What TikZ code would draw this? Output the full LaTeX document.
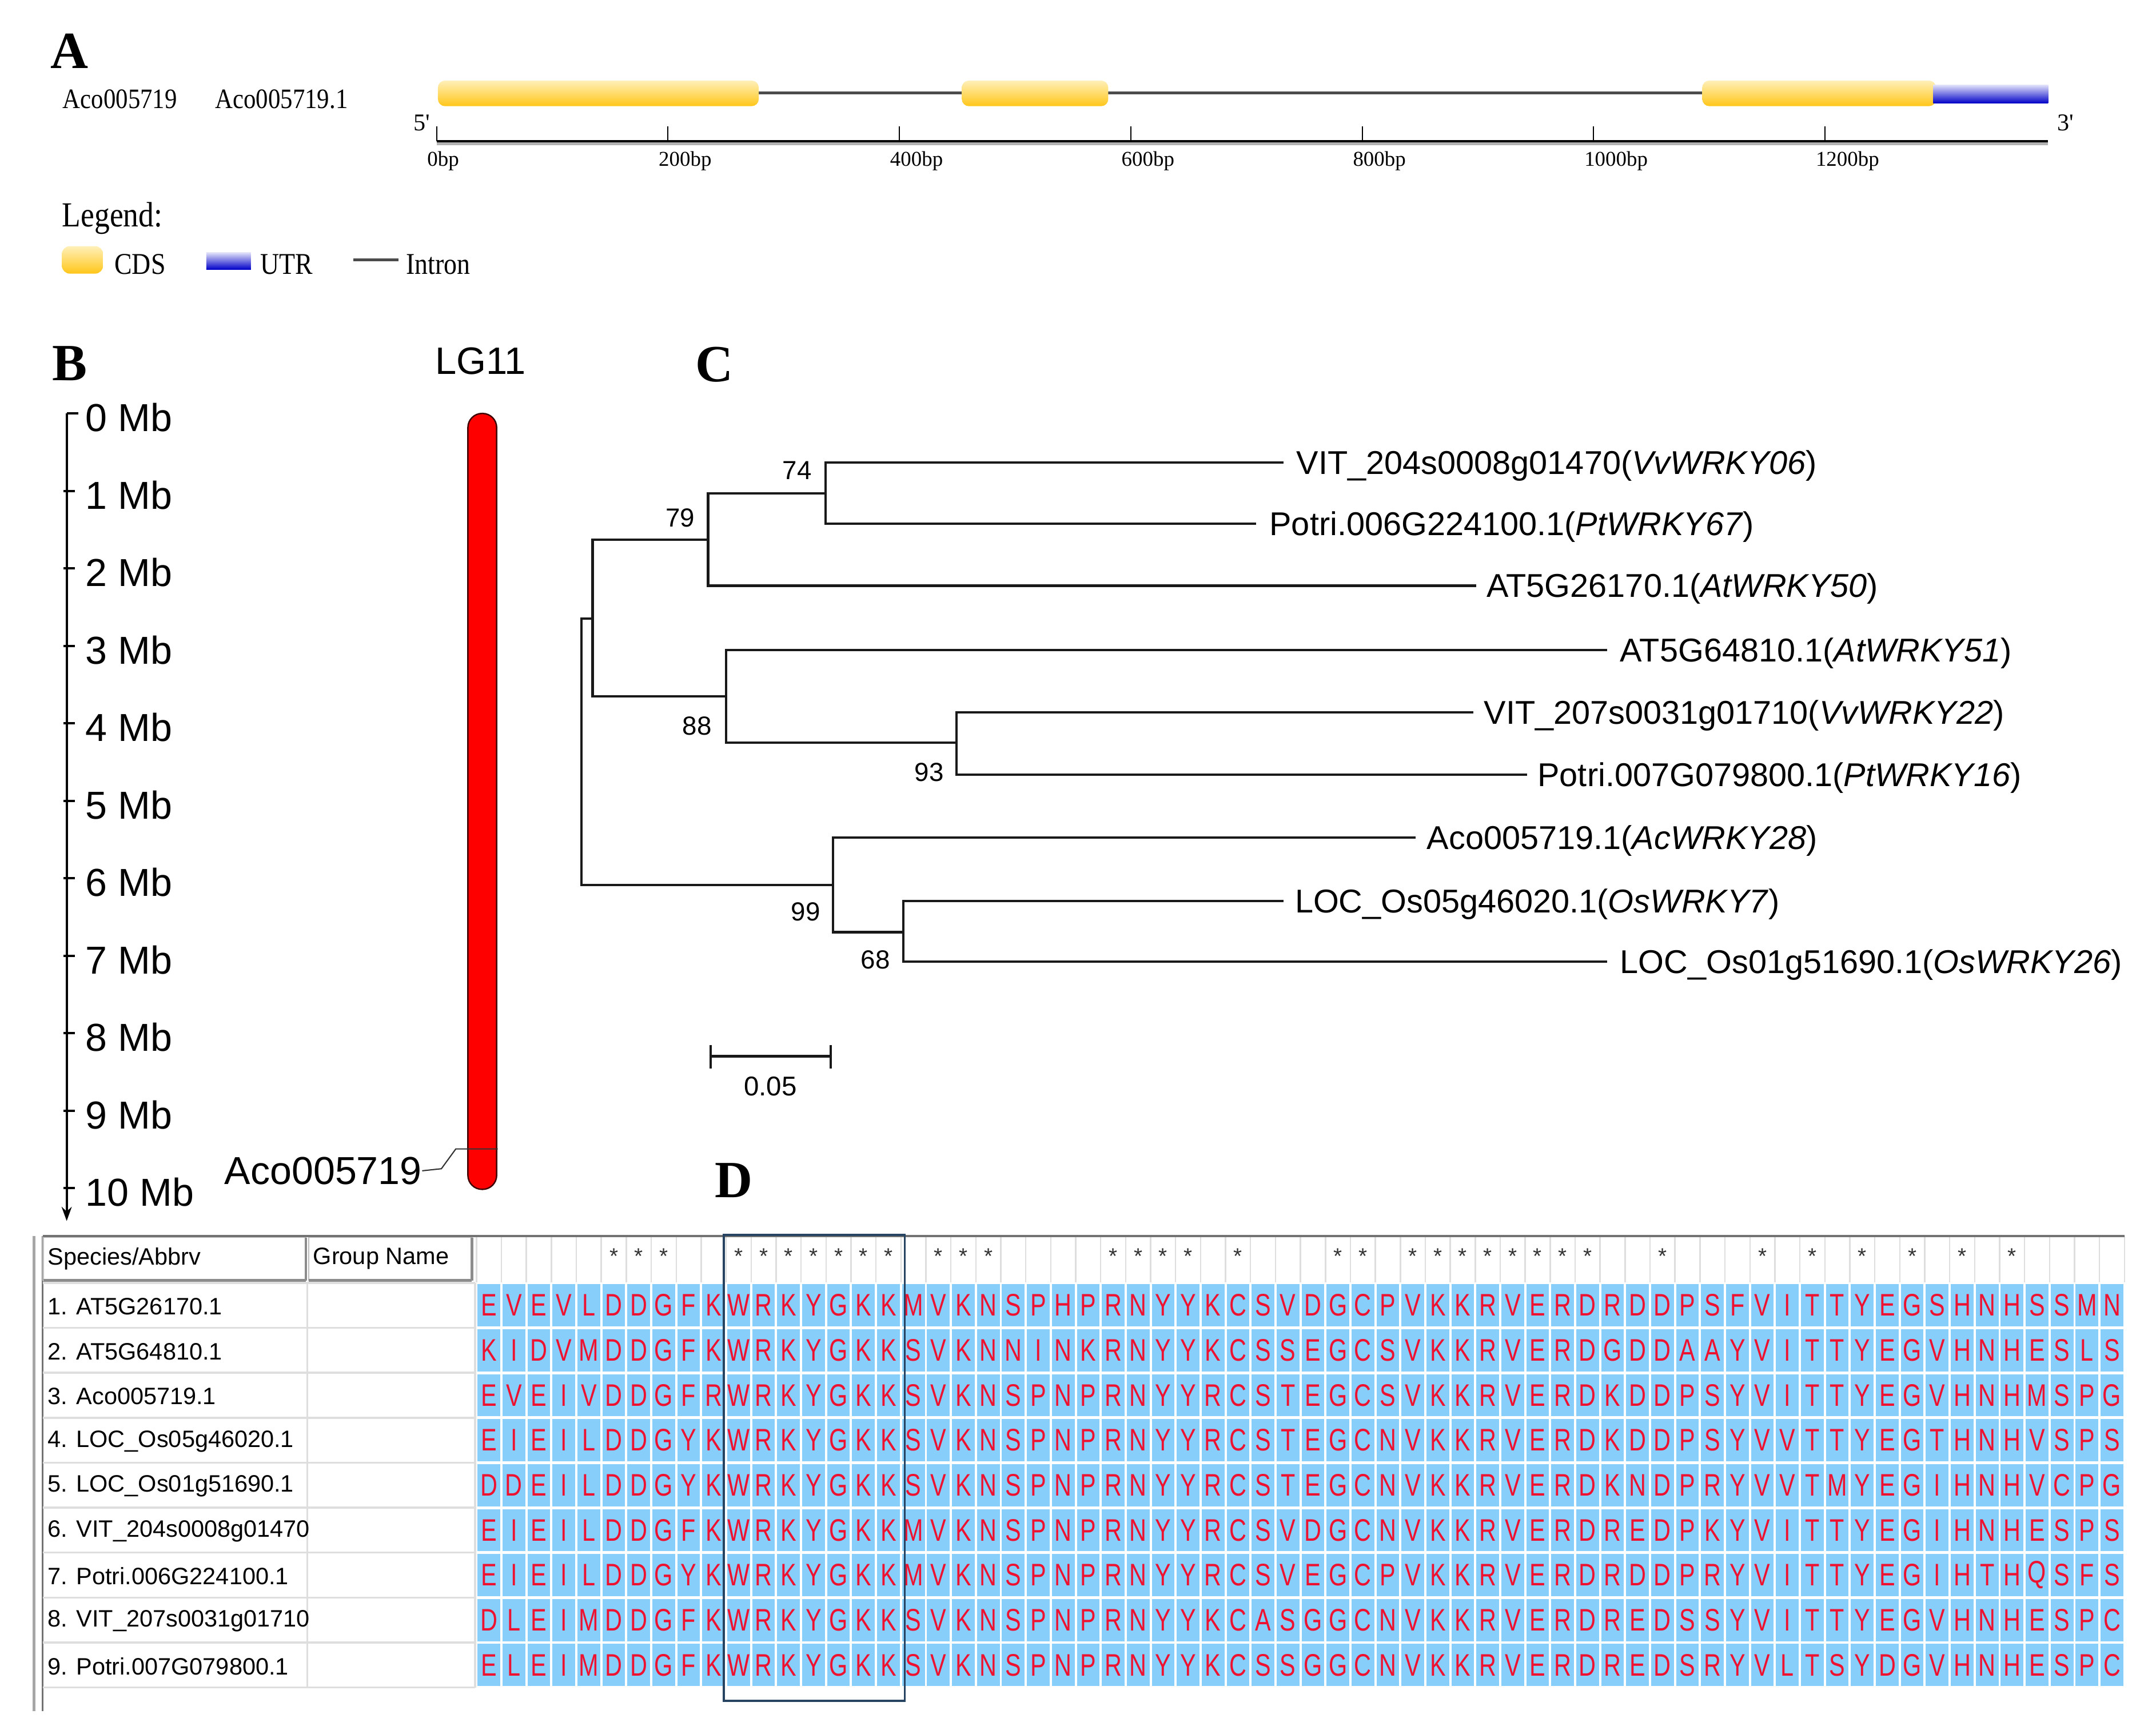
\documentclass[tikz,border=0pt]{standalone}
\usepackage{fontspec}
\setmainfont{Liberation Sans}
\newfontfamily\tnr{Liberation Serif}
\newfontfamily\tnra[FakeStretch=0.87]{Liberation Serif}
\newfontfamily\seqf[FakeStretch=0.76]{Liberation Sans}
\usetikzlibrary{arrows.meta}
\definecolor{cdsTop}{RGB}{255,240,185}
\definecolor{cdsMid}{RGB}{255,213,70}
\definecolor{cdsBot}{RGB}{255,198,25}
\definecolor{utrTop}{RGB}{228,228,250}
\definecolor{utrMid}{RGB}{90,90,225}
\definecolor{utrBot}{RGB}{0,0,200}
\definecolor{cellblue}{RGB}{135,206,250}
\definecolor{aared}{RGB}{238,18,48}
\definecolor{boxblue}{RGB}{38,68,98}
\definecolor{gridgray}{RGB}{222,222,222}
\definecolor{introngray}{RGB}{75,75,75}
\definecolor{chromred}{RGB}{255,0,0}
\newcommand\seqrow[2]{%
  \foreach \ch [count=\k] in {#2} {%
    \node[aacell] (s#1-\k) at ({337.42+18.16*\k},{933+32.7*(#1-0.5)}) {\ch};
  }}
\tikzset{
  panellab/.style={inner sep=0, font=\tnr\bfseries\fontsize{26}{28}\selectfont},
  genelab/.style={inner sep=0, anchor=base west, font=\tnra\fontsize{14}{16}\selectfont},
  leglab/.style={inner sep=0, anchor=base west, font=\tnra\fontsize{15}{17}\selectfont},
  bplab/.style={inner sep=0, anchor=base west, font=\tnr\fontsize{10.5}{12}\selectfont},
  mblab/.style={inner sep=0, anchor=west, font=\fontsize{19.4}{21}\selectfont},
  leaflab/.style={inner sep=0, anchor=base west, font=\fontsize{16.4}{18}\selectfont},
  boot/.style={inner sep=0, font=\fontsize{13}{14}\selectfont},
  branch/.style={line width=1.2pt, black!90},
  cdsbar/.style={top color=cdsTop, middle color=cdsMid, bottom color=cdsBot, rounded corners=3.5pt},
  utrbar/.style={top color=utrTop, middle color=utrMid, bottom color=utrBot},
  aacell/.style={inner sep=0, minimum width=11.3pt, minimum height=21pt, fill=cellblue, text=aared, font=\seqf\fontsize{15.5}{16}\selectfont},
  rowlab/.style={inner sep=0, anchor=west, font=\fontsize{11.8}{13}\selectfont},
  cons/.style={inner sep=0, anchor=north, text=black!80, font=\fontsize{11}{12}\selectfont},
}
\begin{document}
\begin{tikzpicture}[x=0.02405cm, y=-0.02405cm]
\useasboundingbox (0,0) rectangle (1568,1261);
\fill[white] (0,0) rectangle (1568,1261);

%% ---------------- Panel A ----------------
\node[panellab] (pA) at (50.5,37) {A};
\node[genelab] (g1) at (45.4,78.6) {Aco005719};
\node[genelab] (g2) at (156.3,78.6) {Aco005719.1};
% introns
\draw[introngray, line width=1.4pt] (551,67.6) -- (700,67.6);
\draw[introngray, line width=1.4pt] (805,67.6) -- (1239,67.6);
% exons
\shade[cdsbar] (318.5,58.6) rectangle (551.8,77.2);
\shade[cdsbar] (699.5,58.6) rectangle (806,77.2);
\shade[cdsbar] (1238,58.6) rectangle (1408,77.2);
\shade[utrbar] (1406,61.6) rectangle (1489.6,75.2);
% axis
\draw[black!30, line width=2.4pt] (317.5,103.8) -- (1489.6,103.8);
\draw[black, line width=1pt] (317.5,102.6) -- (1489.6,102.6);
\foreach \i/\lab in {0/0bp,1/200bp,2/400bp,3/600bp,4/800bp,5/1000bp,6/1200bp}{
  \draw[black, line width=0.6pt] ({317.5+168.3*\i},91.7) -- ({317.5+168.3*\i},102.6);
  \node[bplab] (bp\i) at ({310.5+168.3*\i},120.6) {\lab};
}
\node[bplab, font=\tnr\fontsize{12}{13}\selectfont] (p5) at (300.5,95) {5'};
\node[bplab, font=\tnr\fontsize{12}{13}\selectfont] (p3) at (1496,95) {3'};
% legend
\node[inner sep=0, anchor=base west, font=\tnra\fontsize{17.5}{19}\selectfont] (leg) at (45,164.8) {Legend:};
\shade[cdsbar, rounded corners=4pt] (45,179) rectangle (75,199);
\node[leglab] (lcds) at (83,199.5) {CDS};
\shade[utrbar] (150,183.5) rectangle (182.5,196);
\node[leglab] (lutr) at (189,199.5) {UTR};
\draw[introngray, line width=1.4pt] (257,189) -- (290,189);
\node[leglab] (lint) at (295,199.5) {Intron};

%% ---------------- Panel B ----------------
\node[panellab] (pB) at (50.7,264.5) {B};
\node[inner sep=0, font=\fontsize{19}{21}\selectfont] (lg) at (349.5,262.5) {LG11};
\coordinate (axtop) at (48.5,300.7);
\coordinate (axbot) at (48.5,888);
\draw[black, line width=1.1pt, -{Stealth[length=7pt,width=5pt]}] (axtop) -- (axbot);
\draw[black, line width=1.1pt] (48.5,300.7) -- (57,300.7);
\foreach \k in {1,...,10}{
  \draw[black, line width=1.1pt] (46.2,{300.7+56.35*\k}) -- (54.5,{300.7+56.35*\k});
}
\foreach \k in {0,...,10}{
  \node[mblab] (mb\k) at (62,{300.7+56.35*\k+3}) {\k\ Mb};
}
\draw[fill=chromred, draw=black!75!red, line width=0.7pt, rounded corners=7pt] (340.3,300.7) rectangle (361.2,865);
\node[mblab] (acoB) at (163,851.5) {Aco005719};
\coordinate (mk1) at (362,835.6);
\coordinate (mk2) at (331.5,835.6);
\coordinate (mk3) at (321,850);
\draw[black!80, line width=0.6pt] (mk1) -- (mk2) -- (mk3) -- (acoB.east);

%% ---------------- Panel C ----------------
\node[panellab] (pC) at (519.7,265) {C};
% leaf ends
\coordinate (e1) at (933.3,336.4);
\coordinate (e2) at (913.5,381);
\coordinate (e3) at (1073.4,426);
\coordinate (e4) at (1168.9,472.6);
\coordinate (e5) at (1071.4,518);
\coordinate (e6) at (1110.4,563.3);
\coordinate (e7) at (1029.7,609);
\coordinate (e8) at (933.3,655.3);
\coordinate (e9) at (1168.9,699.4);
% internal nodes
\coordinate (m74) at (600.3,358.8);
\coordinate (m79) at (515,392.4);
\coordinate (m93) at (695.7,540);
\coordinate (m88) at (528,506.5);
\coordinate (mA) at (431,450);
\coordinate (m68) at (657,678);
\coordinate (m99) at (605.8,643.6);
\coordinate (mR) at (423,546.8);
\draw[branch] (e1) -| (m74) |- (e2);
\draw[branch] (m74) -| (m79) |- (e3);
\draw[branch] (e5) -| (m93) |- (e6);
\draw[branch] (e4) -| (m88) |- (m93);
\draw[branch] (m79) -| (mA) |- (m88);
\draw[branch] (e8) -| (m68) |- (e9);
\draw[branch] (e7) -| (m99) |- (m68);
\draw[branch] (mA) -| (mR) |- (m99);
% leaf labels
\node[leaflab] (L1) at (942.7,344.9) {VIT\_204s0008g01470(\textit{VvWRKY06})};
\node[leaflab] (L2) at (923,389.5) {Potri.006G224100.1(\textit{PtWRKY67})};
\node[leaflab] (L3) at (1081,434.5) {AT5G26170.1(\textit{AtWRKY50})};
\node[leaflab] (L4) at (1178,481.1) {AT5G64810.1(\textit{AtWRKY51})};
\node[leaflab] (L5) at (1079,526.5) {VIT\_207s0031g01710(\textit{VvWRKY22})};
\node[leaflab] (L6) at (1118,571.8) {Potri.007G079800.1(\textit{PtWRKY16})};
\node[leaflab] (L7) at (1037.5,617.5) {Aco005719.1(\textit{AcWRKY28})};
\node[leaflab] (L8) at (941.5,663.8) {LOC\_Os05g46020.1(\textit{OsWRKY7})};
\node[leaflab] (L9) at (1178,707.9) {LOC\_Os01g51690.1(\textit{OsWRKY26})};
% bootstrap
\node[boot] (b74) at (579.7,342.2) {74};
\node[boot] (b79) at (494.8,376.5) {79};
\node[boot] (b88) at (507,528) {88};
\node[boot] (b93) at (675.7,561.7) {93};
\node[boot] (b99) at (586,663) {99};
\node[boot] (b68) at (636.6,698) {68};
% scale bar
\coordinate (sb1) at (516.8,768.2);
\coordinate (sb2) at (604,768.2);
\draw[branch] (sb1) -- (sb2);
\draw[branch] (516.8,760) -- (516.8,777);
\draw[branch] (604,760) -- (604,777);
\node[boot, font=\fontsize{13.5}{15}\selectfont] (sbl) at (560.3,790) {0.05};

%% ---------------- Panel D ----------------
\node[panellab] (pD) at (533.7,858.5) {D};
% left double border
\draw[black!35, line width=1.5pt] (24.8,899) -- (24.8,1244.5);
\draw[black!55, line width=1pt] (31,899) -- (31,1244.5);
% header cells
\fill[white] (31,899) rectangle (343.7,932);
\draw[black!25, line width=0.8pt] (31.5,899.5) rectangle (222.4,931);
\draw[black!45, line width=1.8pt] (31.5,931.5) -- (222.4,931.5);
\draw[black!45, line width=1.2pt] (222.4,900) -- (222.4,931.5);
\draw[black!25, line width=0.8pt] (224.5,899.5) rectangle (343.2,931);
\draw[black!45, line width=1.8pt] (224.5,931.5) -- (343.2,931.5);
\draw[black!45, line width=1.2pt] (343.2,900) -- (343.2,931.5);
\node[rowlab] (hsp) at (34.5,915.5) {Species/Abbrv};
\node[rowlab] (hgr) at (227.5,915.5) {Group Name};
% sequence header separators
\foreach \c in {0,...,66}{
  \draw[gridgray, line width=0.7pt] ({346.5+18.16*\c},899) -- ({346.5+18.16*\c},932.5);
}
% top border
\draw[black!55, line width=1.1pt] (31,899) -- (1545,899);
% conservation stars
\foreach \c in {6,7,8,11,12,13,14,15,16,17,19,20,21,26,27,28,29,31,35,36,38,39,40,41,42,43,44,45,48,52,54,56,58,60,62}{
  \node[cons] (st\c) at ({337.42+18.16*\c},907.6) {*};
}
% label area grid
\foreach \r in {0,...,9}{
  \draw[gridgray, line width=1pt] (31,{933+32.7*\r}) -- (345.5,{933+32.7*\r});
}
\draw[gridgray, line width=1pt] (223.5,933) -- (223.5,1227.3);
\draw[gridgray, line width=1pt] (345.5,933) -- (345.5,1227.3);
\foreach \r/\nm in {1/{1. AT5G26170.1},2/{2. AT5G64810.1},3/{3. Aco005719.1},4/{4. LOC\_Os05g46020.1},5/{5. LOC\_Os01g51690.1},6/{6. VIT\_204s0008g01470},7/{7. Potri.006G224100.1},8/{8. VIT\_207s0031g01710},9/{9. Potri.007G079800.1}}{
  \node[rowlab] (rl\r) at (34.5,{933+32.7*(\r-0.5)+0.8}) {\nm};
}
% sequences
\seqrow{1}{E,V,E,V,L,D,D,G,F,K,W,R,K,Y,G,K,K,M,V,K,N,S,P,H,P,R,N,Y,Y,K,C,S,V,D,G,C,P,V,K,K,R,V,E,R,D,R,D,D,P,S,F,V,I,T,T,Y,E,G,S,H,N,H,S,S,M,N}
\seqrow{2}{K,I,D,V,M,D,D,G,F,K,W,R,K,Y,G,K,K,S,V,K,N,N,I,N,K,R,N,Y,Y,K,C,S,S,E,G,C,S,V,K,K,R,V,E,R,D,G,D,D,A,A,Y,V,I,T,T,Y,E,G,V,H,N,H,E,S,L,S}
\seqrow{3}{E,V,E,I,V,D,D,G,F,R,W,R,K,Y,G,K,K,S,V,K,N,S,P,N,P,R,N,Y,Y,R,C,S,T,E,G,C,S,V,K,K,R,V,E,R,D,K,D,D,P,S,Y,V,I,T,T,Y,E,G,V,H,N,H,M,S,P,G}
\seqrow{4}{E,I,E,I,L,D,D,G,Y,K,W,R,K,Y,G,K,K,S,V,K,N,S,P,N,P,R,N,Y,Y,R,C,S,T,E,G,C,N,V,K,K,R,V,E,R,D,K,D,D,P,S,Y,V,V,T,T,Y,E,G,T,H,N,H,V,S,P,S}
\seqrow{5}{D,D,E,I,L,D,D,G,Y,K,W,R,K,Y,G,K,K,S,V,K,N,S,P,N,P,R,N,Y,Y,R,C,S,T,E,G,C,N,V,K,K,R,V,E,R,D,K,N,D,P,R,Y,V,V,T,M,Y,E,G,I,H,N,H,V,C,P,G}
\seqrow{6}{E,I,E,I,L,D,D,G,F,K,W,R,K,Y,G,K,K,M,V,K,N,S,P,N,P,R,N,Y,Y,R,C,S,V,D,G,C,N,V,K,K,R,V,E,R,D,R,E,D,P,K,Y,V,I,T,T,Y,E,G,I,H,N,H,E,S,P,S}
\seqrow{7}{E,I,E,I,L,D,D,G,Y,K,W,R,K,Y,G,K,K,M,V,K,N,S,P,N,P,R,N,Y,Y,R,C,S,V,E,G,C,P,V,K,K,R,V,E,R,D,R,D,D,P,R,Y,V,I,T,T,Y,E,G,I,H,T,H,Q,S,F,S}
\seqrow{8}{D,L,E,I,M,D,D,G,F,K,W,R,K,Y,G,K,K,S,V,K,N,S,P,N,P,R,N,Y,Y,K,C,A,S,G,G,C,N,V,K,K,R,V,E,R,D,R,E,D,S,S,Y,V,I,T,T,Y,E,G,V,H,N,H,E,S,P,C}
\seqrow{9}{E,L,E,I,M,D,D,G,F,K,W,R,K,Y,G,K,K,S,V,K,N,S,P,N,P,R,N,Y,Y,K,C,S,S,G,G,C,N,V,K,K,R,V,E,R,D,R,E,D,S,R,Y,V,L,T,S,Y,D,G,V,H,N,H,E,S,P,C}
% WRKYGKK box
\draw[boxblue, line width=1.1pt] (526.3,898) rectangle (658,1237);
\end{tikzpicture}
\end{document}
